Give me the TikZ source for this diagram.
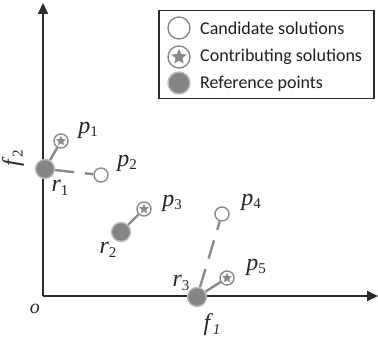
\documentclass[tikz,border=0pt]{standalone}
\usepackage{fontspec}
\setmainfont{Liberation Serif}
\newfontfamily\legfont{Carlito}
\usetikzlibrary{shapes.geometric,arrows.meta}
\definecolor{axiscol}{HTML}{2B2B2B}
\definecolor{ptgray}{HTML}{8A8A8A}
\definecolor{reffill}{HTML}{858585}
\definecolor{refedge}{HTML}{BDBDBD}
\newcommand\lbl[2]{\textit{#1}\raisebox{-0.35ex}{\fontsize{15}{15}\selectfont #2}}
\tikzset{
  axis/.style={line width=2pt, draw=axiscol, -{Triangle[length=11pt,width=10pt]}},
  refpt/.style={circle, fill=reffill, draw=refedge, line width=1.4pt, minimum size=19pt, inner sep=0pt},
  candpt/.style={circle, fill=white, draw=ptgray, line width=1.4pt, minimum size=14pt, inner sep=0pt},
  contpt/.style={candpt, path picture={\node[star, star points=5, star point ratio=2.2, fill=ptgray, inner sep=0pt, minimum size=#1] at (path picture bounding box.center) {};}},
  contpt/.default=10.5pt,
  link/.style={draw=ptgray, line width=2.4pt},
  dlink/.style={link, dash pattern=on 19pt off 11pt},
  lab/.style={font=\fontsize{24}{24}\selectfont, inner sep=0pt, text=black!85},
  legtext/.style={font=\legfont\fontsize{18}{18}\selectfont, anchor=west, inner sep=0pt, text=black!88},
}
\begin{document}
\begin{tikzpicture}[x=1pt,y=-1pt]
\useasboundingbox (0,0) rectangle (378,337);
% axes
\coordinate (O) at (43,296);
\coordinate (ytop) at (43,3);
\coordinate (xend) at (378,296);
\draw[axis] (O) -- (ytop);
\draw[axis] (O) -- (xend);
% points
\node[refpt] (r1) at (45,169) {};
\node[contpt] (p1) at (61,141) {};
\node[candpt] (p2) at (101,175) {};
\node[refpt] (r2) at (121,232) {};
\node[contpt] (p3) at (144,209) {};
\node[refpt] (r3) at (197,297) {};
\node[candpt] (p4) at (222,214) {};
\node[contpt] (p5) at (227,278) {};
% links
\path[link] (r1) -- (p1);
\path[dlink] (r1) -- (p2);
\path[link] (r2) -- (p3);
\path[link] (r3) -- (p5);
\path[dlink] (r3) -- (p4);
% labels
\node[lab] (lp1) at (88,130) {\lbl{p}{1}};
\node[lab] (lp2) at (127,163) {\lbl{p}{2}};
\node[lab] (lr1) at (60,188) {\lbl{r}{1}};
\node[lab] (lp3) at (172,203) {\lbl{p}{3}};
\node[lab] (lr2) at (108,250) {\lbl{r}{2}};
\node[lab] (lr3) at (181,283) {\lbl{r}{3}};
\node[lab] (lp4) at (251,202) {\lbl{p}{4}};
\node[lab] (lp5) at (256,267) {\lbl{p}{5}};
\node[lab] (lf1) at (212,325) {\lbl{f}{\textit{1}}};
\node[lab, rotate=90] (lf2) at (13,158) {\lbl{f}{2}};
\node[lab, font=\fontsize{20}{20}\selectfont] (lo) at (35,309) {\textit{o}};
% legend
\node[draw=axiscol, line width=1.5pt, minimum width=215pt, minimum height=88pt, anchor=north west, inner sep=0pt] (legbox) at (158,10) {};
\node[candpt, minimum size=22pt] (l1) at (179,28) {};
\node[contpt=16pt, minimum size=22pt] (l2) at (179,57) {};
\node[refpt, minimum size=22pt] (l3) at (179,83) {};
\node[legtext] (t1) at (200,28) {Candidate solutions};
\node[legtext] (t2) at (200,57) {Contributing solutions};
\node[legtext] (t3) at (200,84) {Reference points};
\end{tikzpicture}
\end{document}
